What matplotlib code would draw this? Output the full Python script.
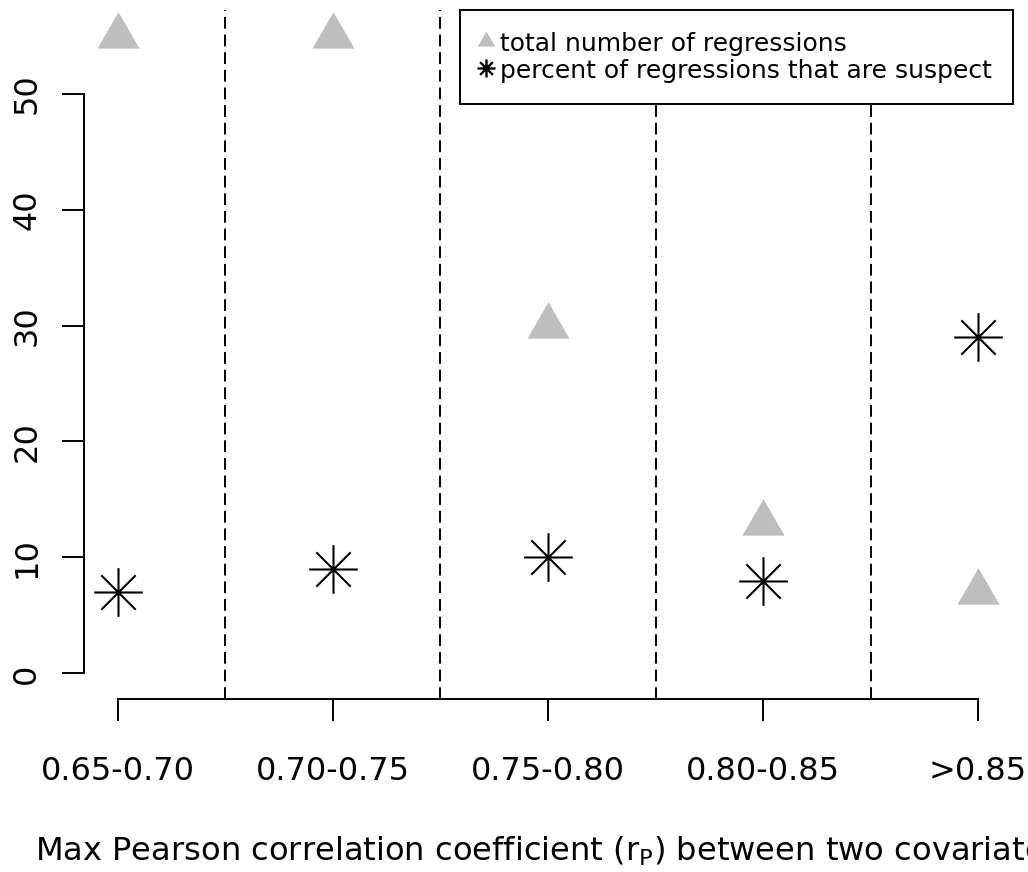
import matplotlib
matplotlib.use("Agg")
import matplotlib.pyplot as plt
from matplotlib.path import Path
import numpy as np

# ---- data ----
categories = ["0.65-0.70", "0.70-0.75", "0.75-0.80", "0.80-0.85", ">0.85"]
total_regressions = [55, 55, 30, 13, 7]
percent_suspect = [7, 9, 10, 8, 29]
y_ticks = [0, 10, 20, 30, 40, 50]
separators = [1.5, 2.5, 3.5, 4.5]

plt.rcParams['font.family'] = ['DejaVu Sans']
plt.rcParams['mathtext.fontset'] = 'dejavusans'
plt.rcParams['lines.scale_dashes'] = False

# markers: equilateral triangle centred on centroid, 8-arm asterisk (R pch 17 / pch 8)
tri = Path([(0, 1), (-0.866, -0.5), (0.866, -0.5), (0, 1)],
           [Path.MOVETO, Path.LINETO, Path.LINETO, Path.CLOSEPOLY])
d = np.sqrt(0.5)
star = Path([(-1, 0), (1, 0), (0, -1), (0, 1), (-d, -d), (d, d), (-d, d), (d, -d)],
            [Path.MOVETO, Path.LINETO] * 4)

W, H = 1028, 872
fig = plt.figure(figsize=(W / 100, H / 100), dpi=100)
ax = fig.add_axes([83.5 / W, 1 - 699 / H, (1012.5 - 83.5) / W, (699 - 10) / H])

x = np.arange(1, len(categories) + 1)
ax.set_xlim(0.84, 5.16)
ax.set_ylim(-2.2, 57.2)

for s in separators:
    ax.axvline(s, color='black', lw=1.4, linestyle=(0, (8.5, 4.2)), zorder=1)

ax.plot(x, total_regressions, linestyle='none', marker=tri, markersize=35,
        color='#BEBEBE', markeredgewidth=0, clip_on=False, zorder=3)
ax.plot(x, percent_suspect, linestyle='none', marker=star, markersize=35,
        color='black', markeredgecolor='black', markeredgewidth=1.5, clip_on=False, zorder=3)

# legend handles
h1, = ax.plot([], [], linestyle='none', marker=tri, markersize=14.5,
              color='#BEBEBE', markeredgewidth=0)
h2, = ax.plot([], [], linestyle='none', marker=star, markersize=13,
              color='black', markeredgecolor='black', markeredgewidth=1.7)
leg = ax.legend([h1, h2], ["total number of regressions",
                           "percent of regressions that are suspect"],
                loc='upper right', bbox_to_anchor=(1, 1), borderaxespad=0,
                fontsize=18, frameon=True, fancybox=False, framealpha=1,
                edgecolor='black', borderpad=0.82, handlelength=0.5,
                handleheight=1.09, handletextpad=0.3, labelspacing=0.08)
leg.get_frame().set_linewidth(1.4)
leg.set_zorder(5)

for side in ['top', 'right']:
    ax.spines[side].set_visible(False)
ax.spines['left'].set_bounds(0, 50)
ax.spines['bottom'].set_bounds(1, 5)
for side in ['left', 'bottom']:
    ax.spines[side].set_linewidth(1.4)

ax.set_xticks(x)
ax.set_xticklabels(categories)
ax.set_yticks(y_ticks)
ax.set_yticklabels([str(v) for v in y_ticks], rotation=90, va='center')
ax.tick_params(axis='both', direction='out', length=15.8, width=1.4, labelsize=23)
ax.tick_params(axis='x', pad=25)
ax.tick_params(axis='y', pad=13.9)

ax.set_xlabel("Max Pearson correlation coefficient ($\\mathregular{r_P}$) between two covariates",
              fontsize=23.1, labelpad=34.5)

fig.savefig("out.png", dpi=100)
